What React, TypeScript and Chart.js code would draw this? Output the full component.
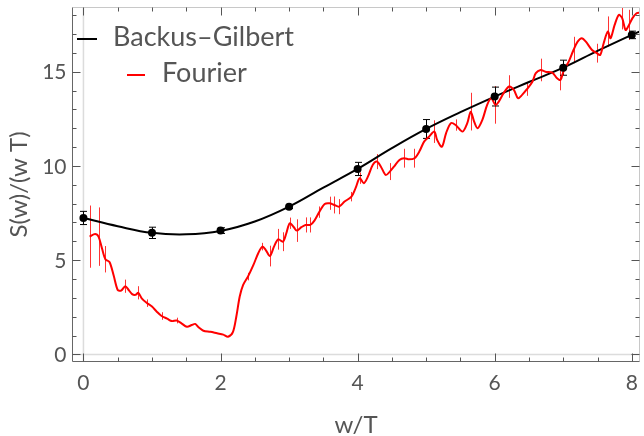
import React, { useEffect, useRef } from "react";
import { Chart, registerables } from "chart.js";

Chart.register(...registerables);

const W = 644;
const H = 436;

// Axis ticks
const xMajorTicks = [0, 2, 4, 6, 8];
const xMinorTicks = [0.5, 1, 1.5, 2.5, 3, 3.5, 4.5, 5, 5.5, 6.5, 7, 7.5];
const yMajorTicks = [0, 5, 10, 15];
const yMinorTicks = [1, 2, 3, 4, 6, 7, 8, 9, 11, 12, 13, 14, 16, 17, 18];

// Backus–Gilbert points with errors
const bgX = [0, 1, 2, 3, 4, 5, 6, 7, 8];
const bgY = [7.24, 6.45, 6.57, 7.84, 9.84, 11.96, 13.68, 15.21, 16.95];
const bgErr = [0.35, 0.3, 0.15, 0.1, 0.35, 0.5, 0.5, 0.4, 0.2];

// Backus–Gilbert smooth curve
const bgCurveX = [0, 0.5, 1, 1.5, 2, 2.5, 3, 3.5, 4, 4.5, 5, 5.5, 6, 6.5, 7, 7.5, 8, 8.12];
const bgCurveY = [7.24, 6.8, 6.45, 6.37, 6.55, 7.05, 7.84, 8.85, 9.84, 10.94, 11.96, 12.85, 13.68, 14.45, 15.21, 16.1, 16.95, 17.14];

// Fourier curve with errors
const fourierX = [
  0.09, 0.17, 0.22, 0.27, 0.32, 0.38, 0.44, 0.5, 0.55, 0.61, 0.66, 0.71, 0.76, 0.8, 0.85, 0.93,
  1.0, 1.07, 1.14, 1.22, 1.29, 1.36, 1.43, 1.51, 1.58, 1.63, 1.68, 1.75, 1.85, 1.95, 2.04, 2.11,
  2.18, 2.23, 2.28, 2.33, 2.4, 2.48, 2.55, 2.61, 2.66, 2.72, 2.78, 2.84, 2.91, 2.96, 3.01, 3.07,
  3.11, 3.18, 3.24, 3.31, 3.37, 3.44, 3.52, 3.59, 3.66, 3.73, 3.81, 3.91, 3.97, 4.03, 4.09, 4.15,
  4.22, 4.28, 4.34, 4.41, 4.47, 4.53, 4.61, 4.68, 4.75, 4.83, 4.9, 4.97, 5.04, 5.12, 5.16, 5.23,
  5.29, 5.36, 5.43, 5.53, 5.6, 5.65, 5.7, 5.75, 5.82, 5.89, 5.95, 6.01, 6.06, 6.13, 6.21, 6.28,
  6.34, 6.4, 6.47, 6.55, 6.6, 6.67, 6.74, 6.84, 6.91, 6.96, 7.01, 7.08, 7.15, 7.21, 7.27, 7.33,
  7.42, 7.49, 7.54, 7.59, 7.65, 7.69, 7.75, 7.81, 7.86, 7.91, 7.96, 8.01, 8.07, 8.12,
];
const fourierY = [
  6.25, 6.39, 6.25, 5.63, 5.05, 4.9, 4.2, 3.42, 3.39, 3.62, 3.42, 3.2, 3.16, 3.27, 2.98, 2.72,
  2.54, 2.27, 2.04, 1.9, 1.77, 1.8, 1.65, 1.47, 1.56, 1.62, 1.44, 1.26, 1.2, 1.12, 1.05, 0.94,
  1.18, 2.0, 3.07, 3.69, 4.13, 4.75, 5.37, 5.72, 5.54, 5.22, 5.72, 6.11, 5.98, 6.43, 6.96, 6.75,
  6.57, 6.75, 6.87, 6.87, 7.1, 7.55, 7.98, 8.02, 7.93, 7.84, 8.11, 8.37, 8.82, 9.35, 9.08, 9.43,
  10.05, 10.23, 9.96, 9.52, 9.7, 9.96, 10.32, 10.41, 10.35, 10.41, 10.76, 11.29, 11.55, 11.82, 11.38, 11.02,
  11.73, 12.27, 12.17, 11.82, 12.27, 12.88, 12.35, 12.0, 12.44, 13.24, 13.59, 13.24, 13.41, 13.86, 14.21, 14.03,
  13.59, 13.77, 14.07, 14.47, 14.92, 15.09, 15.0, 14.95, 14.65, 14.56, 15.09, 15.53, 16.15, 16.59, 16.77, 16.59,
  16.15, 15.98, 15.89, 16.51, 17.13, 16.77, 17.48, 18.01, 17.84, 17.21, 17.48, 17.84, 18.1, 18.13,
];
const fourierErr = [
  1.65, 0, 1.55, 0, 0.7, 0, 0, 0, 0, 0.35, 0, 0, 0, 0.35, 0, 0.2,
  0, 0, 0.2, 0, 0, 0.15, 0, 0, 0, 0, 0, 0, 0, 0, 0, 0,
  0, 0, 0, 0, 0.2, 0, 0, 0.2, 0, 0.55, 0, 0.55, 0.5, 0, 0.3, 0,
  0.6, 0, 0.4, 0.4, 0, 0.3, 0, 0.35, 0.45, 0.4, 0, 0.25, 0, 0.3, 0, 0,
  0, 0.4, 0, 0, 0.45, 0, 0, 0.5, 0, 0.5, 0, 0, 0, 0.6, 0, 0,
  0, 0, 0.3, 0, 0, 1.0, 0, 0, 0, 0, 0, 1.0, 0, 0, 0.6, 0,
  0, 0, 0.35, 0, 0, 0.6, 0, 0, 0, 0.55, 0, 0, 0.7, 0, 0, 0,
  0, 0.5, 0, 0, 0.8, 0, 0, 0, 0.6, 0, 0.8, 0, 0, 0,
];

const FONT = "Lato, 'Open Sans', sans-serif";
const TEXT = "#555555";

const decorPlugin = {
  id: "decor",
  beforeDatasetsDraw(chart: any) {
    const { ctx, chartArea: a, scales } = chart;
    const x = scales.x;
    const y = scales.y;
    const seg = (x1: number, y1: number, x2: number, y2: number) => {
      ctx.beginPath();
      ctx.moveTo(x1, y1);
      ctx.lineTo(x2, y2);
      ctx.stroke();
    };
    ctx.save();
    // zero lines
    ctx.strokeStyle = "#dcdcdc";
    ctx.lineWidth = 1.5;
    const x0 = x.getPixelForValue(0);
    const y0 = y.getPixelForValue(0);
    seg(x0, a.top, x0, a.bottom);
    seg(a.left, y0, a.right, y0);

    ctx.beginPath();
    ctx.rect(a.left, a.top, a.right - a.left, a.bottom - a.top);
    ctx.clip();
    // Fourier error bars
    ctx.strokeStyle = "rgba(255,0,0,0.8)";
    ctx.lineWidth = 1;
    fourierX.forEach((xv, i) => {
      const e = fourierErr[i];
      if (!e) return;
      const px = Math.round(x.getPixelForValue(xv)) + 0.5;
      seg(px, y.getPixelForValue(fourierY[i] + e), px, y.getPixelForValue(fourierY[i] - e));
    });
    // Backus-Gilbert error bars
    ctx.strokeStyle = "#000";
    ctx.lineWidth = 1;
    bgX.forEach((xv, i) => {
      const px = Math.round(x.getPixelForValue(xv)) + 0.5;
      const top = y.getPixelForValue(bgY[i] + bgErr[i]);
      const bot = y.getPixelForValue(bgY[i] - bgErr[i]);
      seg(px, top, px, bot);
      seg(px - 3.5, top, px + 3.5, top);
      seg(px - 3.5, bot, px + 3.5, bot);
    });
    ctx.restore();
  },
  afterDraw(chart: any) {
    const { ctx, chartArea: a, scales } = chart;
    const x = scales.x;
    const y = scales.y;
    const seg = (x1: number, y1: number, x2: number, y2: number) => {
      ctx.beginPath();
      ctx.moveTo(x1, y1);
      ctx.lineTo(x2, y2);
      ctx.stroke();
    };
    ctx.save();
    const L = Math.round(a.left) + 0.5;
    const R = Math.round(a.right) - 0.5;
    const T = Math.round(a.top) + 0.5;
    const B = Math.round(a.bottom) - 0.5;
    ctx.lineWidth = 1;
    // top & right frame (light)
    ctx.strokeStyle = "#c8c8c8";
    seg(L, T, R, T);
    seg(R, T, R, B);
    // left & bottom frame (dark)
    ctx.strokeStyle = "#666666";
    seg(L, T, L, B);
    seg(L, B, R, B);

    // ticks
    ctx.strokeStyle = "#555555";
    const xt = (v: number, len: number) => {
      const px = Math.round(x.getPixelForValue(v)) + 0.5;
      seg(px, B, px, B - len);
      seg(px, T, px, T + len);
    };
    const yt = (v: number, len: number) => {
      const py = Math.round(y.getPixelForValue(v)) + 0.5;
      seg(L, py, L + len, py);
      seg(R, py, R - len, py);
    };
    xMajorTicks.forEach((v) => xt(v, 8));
    xMinorTicks.forEach((v) => xt(v, 4));
    yMajorTicks.forEach((v) => yt(v, 8));
    yMinorTicks.forEach((v) => yt(v, 4));

    // tick labels
    ctx.fillStyle = TEXT;
    ctx.font = `21px ${FONT}`;
    ctx.textAlign = "center";
    ctx.textBaseline = "middle";
    xMajorTicks.forEach((v) => {
      ctx.fillText(String(v), x.getPixelForValue(v), B + 22);
    });
    ctx.textAlign = "right";
    yMajorTicks.forEach((v) => {
      ctx.fillText(String(v), L - 6, y.getPixelForValue(v) + 1);
    });

    // axis titles
    ctx.font = `24px ${FONT}`;
    ctx.textAlign = "center";
    ctx.fillText("w/T", (a.left + a.right) / 2, 425);
    ctx.save();
    ctx.translate(19, (a.top + a.bottom) / 2);
    ctx.rotate(-Math.PI / 2);
    ctx.fillText("S(w)/(w T)", 0, 0);
    ctx.restore();

    // legend
    ctx.lineWidth = 2;
    ctx.strokeStyle = "#000";
    seg(77, 39, 97, 39);
    ctx.strokeStyle = "#ff0000";
    seg(127, 75, 145, 75);
    ctx.font = `27px ${FONT}`;
    ctx.textAlign = "left";
    ctx.fillStyle = TEXT;
    ctx.fillText("Backus\u2013Gilbert", 113, 37);
    ctx.fillText("Fourier", 162, 73);
    ctx.restore();
  },
};

export default function App() {
  const ref = useRef<HTMLCanvasElement | null>(null);
  useEffect(() => {
    if (!ref.current) return;
    const chart = new Chart(ref.current, {
      type: "scatter",
      data: {
        datasets: [
          {
            label: "BG points",
            data: bgX.map((v, i) => ({ x: v, y: bgY[i] })),
            showLine: false,
            pointRadius: 4,
            pointBackgroundColor: "#000",
            pointBorderColor: "#000",
            pointBorderWidth: 0,
          },
          {
            label: "Fourier",
            data: fourierX.map((v, i) => ({ x: v, y: fourierY[i] })),
            showLine: true,
            borderColor: "#ff0000",
            borderWidth: 2,
            pointRadius: 0,
            tension: 0.3,
            fill: false,
          },
          {
            label: "Backus-Gilbert",
            data: bgCurveX.map((v, i) => ({ x: v, y: bgCurveY[i] })),
            showLine: true,
            borderColor: "#000",
            borderWidth: 2,
            pointRadius: 0,
            tension: 0.4,
            fill: false,
          },
        ],
      },
      options: {
        animation: false,
        responsive: false,
        maintainAspectRatio: false,
        layout: { padding: { left: 72, top: 7, right: 3, bottom: 74 } },
        plugins: { legend: { display: false }, tooltip: { enabled: false } },
        scales: {
          x: { type: "linear", min: -0.167, max: 8.12, display: false },
          y: { type: "linear", min: -0.4, max: 18.43, display: false },
        },
      },
      plugins: [decorPlugin],
    } as any);
    return () => chart.destroy();
  }, []);
  return (
    <div style={{ position: "fixed", left: 0, top: 0, width: W, height: H, background: "#fff" }}>
      <canvas ref={ref} width={W} height={H} style={{ display: "block", width: W, height: H }} />
    </div>
  );
}
